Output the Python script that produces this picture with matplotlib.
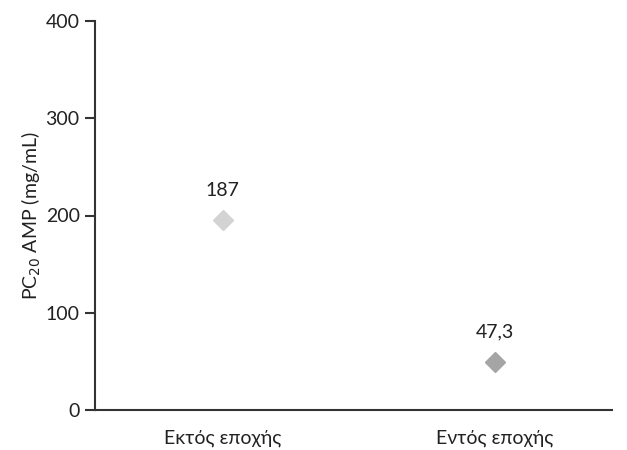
import matplotlib
matplotlib.use("Agg")
import matplotlib.pyplot as plt

categories = ["Εκτός εποχής", "Εντός εποχής"]
values = [195, 49]
labels = ["187", "47,3"]
colors = ["#d3d3d3", "#a5a5a5"]
yticks = [0, 100, 200, 300, 400]

plt.rcParams['font.family'] = ['Lato', 'DejaVu Sans']

fig = plt.figure(figsize=(6.27, 4.5), dpi=100)
ax = fig.add_axes([95/627, 40/450, (612-95)/627, (410-21)/450])

for i, (v, c, t) in enumerate(zip(values, colors, labels)):
    ax.plot([i], [v], marker='D', markersize=10.5, color=c, linestyle='none')
    ax.annotate(t, (i, v), xytext=(0, 15.5), textcoords='offset points',
                ha='center', va='bottom', fontsize=14, color='#222222')

ax.set_xlim(-0.47, 1.43)
ax.set_ylim(0, 400)
ax.set_yticks(yticks)
ax.set_yticklabels([str(t) for t in yticks])
ax.set_xticks(range(len(categories)))
ax.set_xticklabels(categories)
ax.tick_params(axis='x', length=0, pad=14, labelsize=14, labelcolor='#222222')
ax.tick_params(axis='y', length=7, width=1.5, pad=4, labelsize=14, labelcolor='#222222', color='#333333')
for s in ['top', 'right']:
    ax.spines[s].set_visible(False)
for s in ['left', 'bottom']:
    ax.spines[s].set_linewidth(1.5)
    ax.spines[s].set_color('#333333')
ax.set_ylabel("PC$_{20}$ AMP (mg/mL)", fontsize=14, color='#222222', labelpad=2)

fig.savefig("out.png", dpi=100)
